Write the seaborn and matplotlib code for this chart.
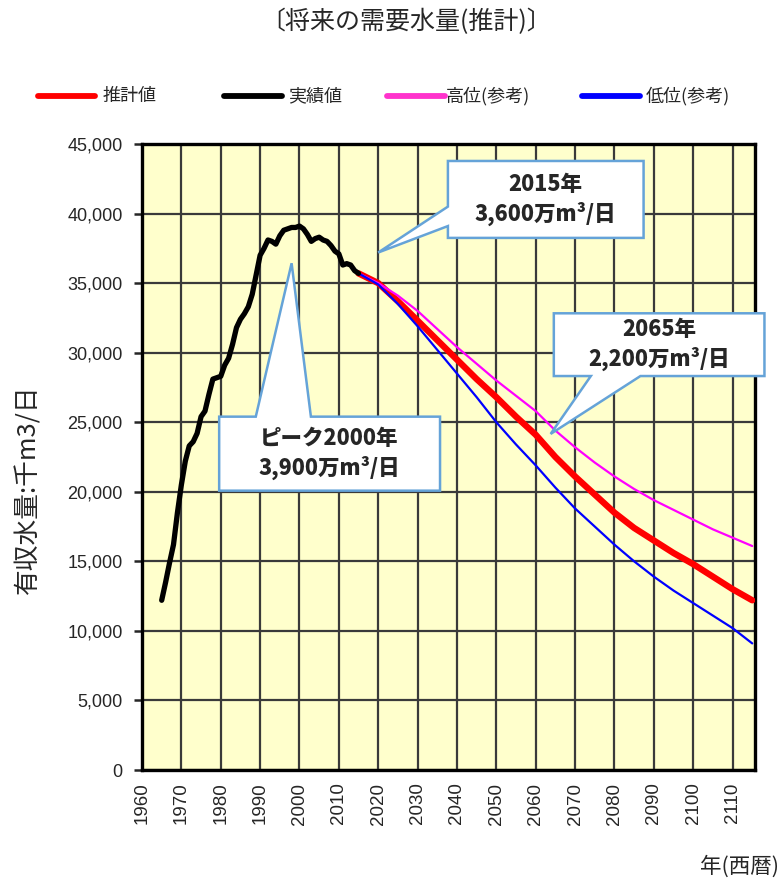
import matplotlib
matplotlib.use("Agg")
import numpy as np
import pandas as pd
import matplotlib.pyplot as plt
from matplotlib.lines import Line2D
from matplotlib.patches import Polygon
from matplotlib.ticker import FuncFormatter
import seaborn as sns

# ---------------- data ----------------
actual_years = list(range(1965, 2016))
actual_values = [12200, 13500, 14900, 16200, 18500, 20500, 22200, 23300, 23600, 24200,
                 25400, 25800, 27000, 28100, 28200, 28300, 29100, 29600, 30600, 31800,
                 32400, 32800, 33300, 34200, 35600, 37000, 37500, 38100, 38000, 37800,
                 38400, 38800, 38900, 39000, 39000, 39100, 38900, 38500, 38000, 38200,
                 38300, 38100, 38000, 37700, 37300, 37100, 36300, 36400, 36300, 35900,
                 35700]

proj_years = list(range(2015, 2120, 5))
estimate_values = [35700, 35000, 33700, 32300, 30900, 29500, 28100, 26800, 25400, 24100,
                   22500, 21100, 19800, 18500, 17400, 16500, 15600, 14800, 13900, 13000, 12200]
high_values = [35700, 35000, 34100, 33000, 31700, 30400, 29200, 28000, 26900, 25800,
               24400, 23200, 22100, 21100, 20200, 19400, 18700, 18000, 17300, 16700, 16100]
low_values = [35700, 34900, 33500, 31900, 30200, 28500, 26800, 25000, 23400, 21900,
              20300, 18800, 17500, 16200, 15000, 13900, 12900, 12000, 11100, 10200, 9100]

x_ticks = list(range(1960, 2111, 10))
y_ticks = list(range(0, 45001, 5000))

series_names = ["推計値", "実績値", "高位(参考)", "低位(参考)"]
series_colors = ["#ff0000", "#000000", "#ff00ff", "#0000ff"]
legend_colors = ["#ff0000", "#000000", "#ff33cc", "#0000ff"]

title_text = "〔将来の需要水量(推計)〕"
ylabel_text = "有収水量:千m3/日"
xlabel_text = "年(西暦)"

callout_texts = ["2015年\n3,600万m³/日",
                 "2065年\n2,200万m³/日",
                 "ピーク2000年\n3,900万m³/日"]

# ---------------- frames ----------------
df_actual = pd.DataFrame({"year": actual_years, "value": actual_values})
df_proj = pd.DataFrame({"year": proj_years,
                        "estimate": estimate_values,
                        "high": high_values,
                        "low": low_values})

# ---------------- figure ----------------
sns.set_style("white")
cjk = ["Noto Sans CJK JP", "DejaVu Sans"]
num_font = ["Liberation Sans", "DejaVu Sans"]
plt.rcParams["font.family"] = cjk

fig = plt.figure(figsize=(7.8, 8.8), dpi=100)
ax = fig.add_axes([142 / 780, 1 - 770 / 880, (755 - 142) / 780, (770 - 144) / 880])
ax.set_facecolor("#ffffcc")

sns.lineplot(data=df_proj, x="year", y="estimate", ax=ax, color=series_colors[0],
             linewidth=4.6, zorder=3, solid_capstyle="round")
sns.lineplot(data=df_proj, x="year", y="high", ax=ax, color=series_colors[2],
             linewidth=1.6, zorder=4)
sns.lineplot(data=df_proj, x="year", y="low", ax=ax, color=series_colors[3],
             linewidth=1.6, zorder=4)
sns.lineplot(data=df_actual, x="year", y="value", ax=ax, color=series_colors[1],
             linewidth=3.8, zorder=5, solid_joinstyle="round")

ax.set_xlim(1960, 2115.7)
ax.set_ylim(0, 45000)
ax.set_xticks(x_ticks)
ax.set_yticks(y_ticks)
ax.set_xticklabels([str(t) for t in x_ticks], rotation=90, family=num_font, fontsize=13.5)
ax.yaxis.set_major_formatter(FuncFormatter(lambda v, p: f"{int(v):,}"))
for lab in ax.get_yticklabels():
    lab.set_family(num_font)
    lab.set_fontsize(13)
ax.tick_params(axis="x", length=0, pad=9)
ax.tick_params(axis="y", length=6, width=1.8, direction="out", pad=8, left=True)
ax.grid(True, color="#3a3a3a", linewidth=1.6)
ax.set_axisbelow(True)
for s in ax.spines.values():
    s.set_color("black")
    s.set_linewidth(2.4)
ax.set_xlabel("")
ax.set_ylabel("")

# ---------------- callouts ----------------
edge = "#65a3d8"

def callout(verts, text, cx, cy):
    poly = Polygon(verts, closed=True, facecolor="white", edgecolor=edge,
                   linewidth=1.8, zorder=6, clip_on=False, joinstyle="miter")
    ax.add_patch(poly)
    ax.text(cx, cy, text, ha="center", va="center", fontsize=15.5, fontweight="heavy",
            family=["Noto Sans CJK JP", "DejaVu Sans"], linespacing=1.3, zorder=7,
            clip_on=False)

# 2015 callout (tail on left side)
b1 = dict(x0=2037.7, x1=2087.4, y0=38250, y1=43780)
callout([(b1["x0"], b1["y1"]), (b1["x1"], b1["y1"]), (b1["x1"], b1["y0"]),
         (b1["x0"], b1["y0"]), (b1["x0"], 39100), (2020.0, 37200), (b1["x0"], 40500)],
        callout_texts[0], (b1["x0"] + b1["x1"]) / 2, (b1["y0"] + b1["y1"]) / 2)

# 2065 callout (tail on bottom)
b2 = dict(x0=2064.6, x1=2118.1, y0=28320, y1=32830)
callout([(b2["x0"], b2["y1"]), (b2["x1"], b2["y1"]), (b2["x1"], b2["y0"]),
         (2086.6, b2["y0"]), (2063.8, 24160), (2074.0, b2["y0"]), (b2["x0"], b2["y0"])],
        callout_texts[1], (b2["x0"] + b2["x1"]) / 2, (b2["y0"] + b2["y1"]) / 2)

# peak callout (tail on top)
b3 = dict(x0=1979.6, x1=2035.7, y0=20080, y1=25400)
callout([(b3["x0"], b3["y1"]), (1988.9, b3["y1"]), (1998.0, 36430), (2002.9, b3["y1"]),
         (b3["x1"], b3["y1"]), (b3["x1"], b3["y0"]), (b3["x0"], b3["y0"])],
        callout_texts[2], (b3["x0"] + b3["x1"]) / 2, (b3["y0"] + b3["y1"]) / 2)

# ---------------- texts ----------------
fig.text(406 / 780, 1 - 22 / 880, title_text, ha="center", va="center", fontsize=18,
         family=cjk)
fig.text(28 / 780, 1 - 489 / 880, ylabel_text, ha="center", va="center", rotation=90,
         fontsize=18.5, family=cjk)
fig.text(700 / 780, 1 - 867 / 880, xlabel_text, ha="left", va="center", fontsize=15.5,
         family=cjk)

# legend (manual placement)
leg_y = 1 - 96 / 880
leg_pos = [(38, 95, 103), (224, 282, 288), (387, 445, 446), (582, 640, 646)]
for (a, b, t), name, col in zip(leg_pos, series_names, legend_colors):
    fig.add_artist(Line2D([a / 780, b / 780], [leg_y, leg_y], transform=fig.transFigure,
                          color=col, linewidth=4.2))
    fig.text(t / 780, leg_y, name, ha="left", va="center", fontsize=13, family=cjk)

fig.savefig("out.png", dpi=100)
